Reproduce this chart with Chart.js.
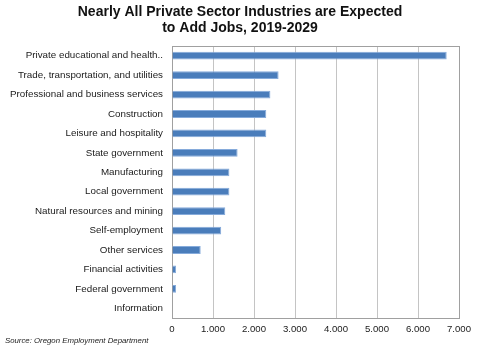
<!DOCTYPE html>
<html>
<head>
<meta charset="utf-8">
<script src="https://cdn.jsdelivr.net/npm/chart.js@4"></script>
<style>
  html, body { margin: 0; padding: 0; background: #fff; }
  #wrap { width: 478px; height: 348px; }
</style>
</head>
<body>
<div id="wrap"><canvas id="jobsChart" width="478" height="348"></canvas></div>
<script>
var industries = [
  'Private educational and health..',
  'Trade, transportation, and utilities',
  'Professional and business services',
  'Construction',
  'Leisure and hospitality',
  'State government',
  'Manufacturing',
  'Local government',
  'Natural resources and mining',
  'Self-employment',
  'Other services',
  'Financial activities',
  'Federal government',
  'Information'
];
var jobChange = [6700, 2600, 2400, 2300, 2300, 1600, 1400, 1400, 1300, 1200, 700, 100, 100, 0];
var titleLines = ['Nearly All Private Sector Industries are Expected', 'to Add Jobs, 2019-2029'];
var sourceNote = 'Source: Oregon Employment Department';

var FONT = '"Liberation Sans", Arial, sans-serif';

function withCommas(v) {
  return String(v).replace(/\B(?=(\d{3})+(?!\d))/g, ',');
}

var textPlugin = {
  id: 'textPlugin',
  beforeDatasetsDraw: function(chart) {
    var ctx = chart.ctx, a = chart.chartArea;
    ctx.save();
    ctx.strokeStyle = '#a0a0a0';
    ctx.lineWidth = 1;
    ctx.strokeRect(a.left + 0.5, a.top + 0.5, a.right - a.left, a.bottom - a.top);
    ctx.restore();
  },
  afterDraw: function(chart) {
    var ctx = chart.ctx;
    ctx.save();
    ctx.fillStyle = '#111';
    ctx.textAlign = 'center';
    ctx.textBaseline = 'middle';
    ctx.font = 'bold 14px ' + FONT;
    ctx.fillText(titleLines[0], 240, 12);
    ctx.fillText(titleLines[1], 240, 28);
    ctx.textAlign = 'left';
    ctx.font = 'italic 7.8px ' + FONT;
    ctx.fillStyle = '#222';
    ctx.fillText(sourceNote, 5, 341);
    ctx.restore();
  }
};

var ctx = document.getElementById('jobsChart').getContext('2d');
var jobsChart = new Chart(ctx, {
  type: 'bar',
  data: {
    labels: industries,
    datasets: [{
      data: jobChange,
      backgroundColor: '#4a7dbb',
      borderColor: '#86abdb',
      borderWidth: 1,
      barPercentage: 0.4,
      categoryPercentage: 1
    }]
  },
  options: {
    indexAxis: 'y',
    responsive: false,
    animation: false,
    layout: { padding: { top: 46, right: 19, bottom: 16, left: 0 } },
    plugins: {
      legend: { display: false },
      tooltip: { enabled: false }
    },
    scales: {
      x: {
        min: 0,
        max: 7000,
        ticks: {
          stepSize: 1000,
          padding: 6,
          color: '#1a1a1a',
          font: { family: FONT, size: 9.6 },
          callback: function(v) { return withCommas(v); }
        },
        grid: { color: '#c4c4c4', drawTicks: false },
        border: { color: '#333' },
        afterFit: function(s) { s.height = 14; }
      },
      y: {
        ticks: {
          padding: 9,
          color: '#1a1a1a',
          autoSkip: false,
          font: { family: FONT, size: 9.8 }
        },
        grid: { display: false, drawTicks: false },
        border: { color: '#222' },
        afterFit: function(s) { s.width = 172; }
      }
    }
  },
  plugins: [textPlugin]
});
</script>
</body>
</html>
